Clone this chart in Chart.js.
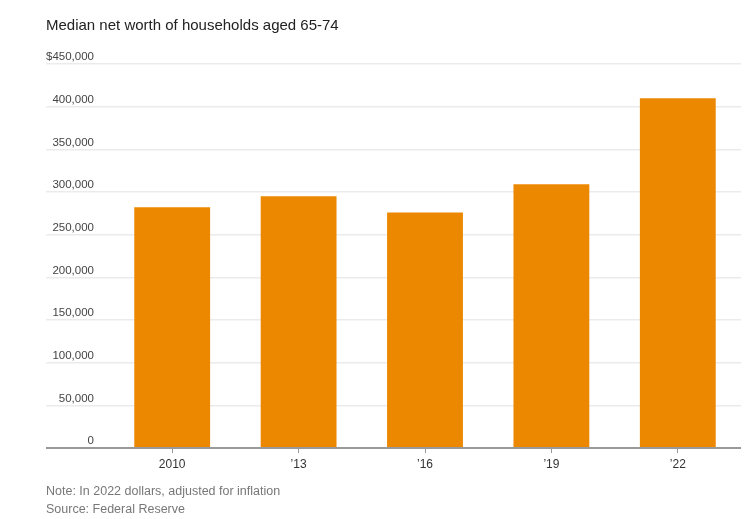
<!DOCTYPE html>
<html>
<head>
<meta charset="utf-8">
<script src="https://cdn.jsdelivr.net/npm/chart.js@4/dist/chart.umd.min.js"></script>
<style>
  html, body { margin: 0; padding: 0; background: #fff; }
  #wrap { position: relative; width: 752px; height: 519px; overflow: hidden; font-family: "Liberation Sans", Arial, sans-serif; }
  #title { position: absolute; left: 46px; top: 16px; font-size: 15px; color: #222; }
  #notes { position: absolute; left: 46px; top: 483px; font-size: 12.5px; color: #777; line-height: 17.5px; }
  #chartBox { position: absolute; left: 0; top: 0; width: 752px; height: 519px; }
</style>
</head>
<body>
<div id="wrap">
  <div id="chartBox"><canvas id="worthChart"></canvas></div>
  <div id="title">Median net worth of households aged 65-74</div>
  <div id="notes">Note: In 2022 dollars, adjusted for inflation<br>Source: Federal Reserve</div>
</div>
<script>
const years = ["2010", "’13", "’16", "’19", "’22"];
const medianWorth = [282000, 295000, 276000, 309000, 410000];
const yTicks = [0, 50000, 100000, 150000, 200000, 250000, 300000, 350000, 400000, 450000];

const barColor = "#ec8800";
const gridColor = "#ebebeb";
const axisColor = "#999999";

function formatTick(value) {
  const text = Number(value).toLocaleString("en-US");
  return value === 450000 ? "$" + text : text;
}

document.addEventListener("DOMContentLoaded", () => {
  const ctx = document.getElementById("worthChart").getContext("2d");

  new Chart(ctx, {
    type: "bar",
    data: {
      labels: years,
      datasets: [{
        label: "Median net worth",
        data: medianWorth,
        backgroundColor: barColor,
        borderWidth: 0,
        barPercentage: 0.6,
        categoryPercentage: 1
      }]
    },
    options: {
      responsive: true,
      maintainAspectRatio: false,
      animation: false,
      layout: {
        padding: { left: 46, right: 11, top: 64, bottom: 41 }
      },
      plugins: {
        legend: { display: false },
        tooltip: { enabled: false }
      },
      scales: {
        x: {
          border: { display: false },
          grid: {
            offset: false,
            drawOnChartArea: false,
            drawTicks: true,
            tickLength: 5,
            color: axisColor,
            lineWidth: 1
          },
          ticks: {
            color: "#333",
            padding: 4,
            font: { family: "Liberation Sans", size: 12 }
          },
          afterFit: (scale) => { scale.height = 30; }
        },
        y: {
          min: 0,
          max: 450000,
          border: { display: false },
          afterBuildTicks: (scale) => {
            scale.ticks = yTicks.map((v) => ({ value: v }));
          },
          afterFit: (scale) => { scale.width = 63; },
          grid: {
            drawTicks: true,
            tickLength: 63,
            color: (c) => (c.tick && c.tick.value === 0 ? axisColor : gridColor),
            lineWidth: (c) => (c.tick && c.tick.value === 0 ? 2 : 1.5)
          },
          ticks: {
            color: "#444",
            padding: -48,
            labelOffset: -7,
            font: { family: "Liberation Sans", size: 11.5 },
            callback: (value) => formatTick(value)
          }
        }
      }
    }
  });
});
</script>
</body>
</html>
